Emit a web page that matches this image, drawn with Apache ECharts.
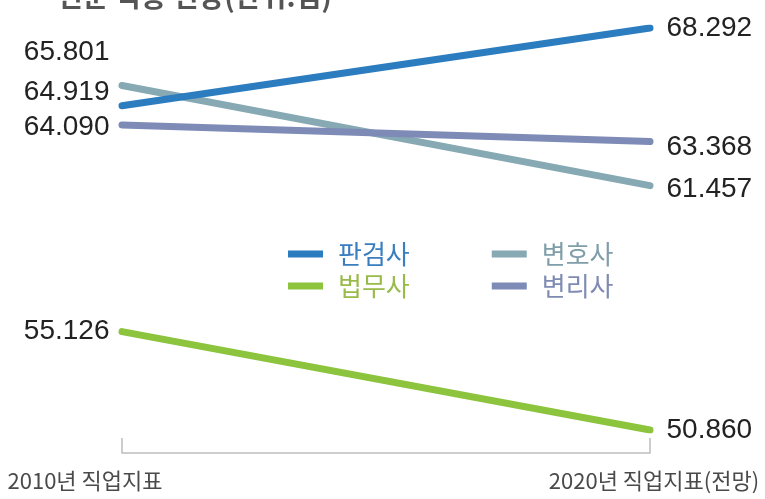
<!DOCTYPE html>
<html>
<head>
<meta charset="utf-8">
<script src="https://cdn.jsdelivr.net/npm/echarts@6/dist/echarts.min.js"></script>
<style>
html,body{margin:0;padding:0;background:#fff;}
#c{width:765px;height:499px;}
</style>
</head>
<body>
<div id="c"></div>
<script>
const categories = ['2010년 직업지표', '2020년 직업지표(전망)'];
const seriesNames = ['판검사', '변호사', '법무사', '변리사'];
const judgeProsecutor = [64.919, 68.292];
const lawyer = [65.801, 61.457];
const legalScrivener = [55.126, 50.860];
const patentAttorney = [64.090, 63.368];
const titleText = '전문 직종 전망(단위:점)';

const colors = {
  '판검사': '#2c7cc0',
  '변호사': '#86a9b3',
  '법무사': '#8cc43e',
  '변리사': '#7d8bb6'
};
const legendTextColors = {
  '판검사': '#3a7ec0',
  '변호사': '#7f9ea9',
  '법무사': '#98bb4a',
  '변리사': '#7f8bb3'
};

const labelFont = {fontFamily: '"Liberation Sans", Arial, sans-serif', fontSize: 28, color: '#222'};

// label offsets keep overlapping numbers readable (style only)
const leftOffsets = {'판검사': [0, -14], '변호사': [0, -33], '법무사': [0, 0], '변리사': [0, 2]};
const rightOffsets = {'판검사': [0, 0], '변호사': [0, 4], '법무사': [0, 0], '변리사': [0, 6]};

function mkSeries(name, vals) {
  return {
    name: name,
    type: 'line',
    xAxisIndex: 0, yAxisIndex: 0,
    symbol: 'circle', symbolSize: 1, showSymbol: true,
    itemStyle: {color: colors[name]},
    lineStyle: {color: colors[name], width: 7, cap: 'round'},
    emphasis: {disabled: true},
    z: name === '판검사' ? 5 : 3,
    data: vals.map((v, i) => ({
      value: v,
      label: Object.assign({
        show: true,
        position: i === 0 ? 'left' : 'right',
        distance: i === 0 ? 12 : 16,
        offset: i === 0 ? leftOffsets[name] : rightOffsets[name],
        formatter: p => Number(p.value).toFixed(3)
      }, labelFont)
    }))
  };
}

const legendText = name => ({
  name: name,
  textStyle: {color: legendTextColors[name]}
});
const legendBase = {
  left: 288, padding: 0, itemGap: 82, itemWidth: 35, itemHeight: 7,
  icon: 'rect', selectedMode: false,
  textStyle: {fontFamily: '"Noto Sans CJK KR", sans-serif', fontSize: 26, padding: [0, 0, 0, 10]}
};

const chart = echarts.init(document.getElementById('c'), null, {renderer: 'canvas'});
chart.setOption({
  backgroundColor: '#fff',
  animation: false,
  title: {
    text: titleText, left: 52, top: -23,
    textStyle: {fontFamily: '"Noto Sans CJK KR", sans-serif', fontSize: 28, fontWeight: 'bold', color: '#555'}
  },
  legend: [
    Object.assign({}, legendBase, {top: 241, data: [legendText('판검사'), legendText('변호사')]}),
    Object.assign({}, legendBase, {top: 273, data: [legendText('법무사'), legendText('변리사')]})
  ],
  grid: [
    {left: 122, right: 115, top: 28, bottom: 69},
    {left: 85, right: 111, top: 28, bottom: 69}
  ],
  xAxis: [
    {
      type: 'category', gridIndex: 0, data: categories, boundaryGap: false, offset: 23,
      axisLine: {show: true, lineStyle: {color: '#bdbdbd', width: 1.5}},
      axisTick: {show: true, inside: true, length: 15, lineStyle: {color: '#bdbdbd', width: 1.5}},
      axisLabel: {show: false}, splitLine: {show: false}
    },
    {
      type: 'category', gridIndex: 1, data: categories, boundaryGap: false, offset: 23,
      axisLine: {show: false}, axisTick: {show: false}, splitLine: {show: false},
      axisLabel: {show: true, margin: 17, color: '#4a4a4a', fontSize: 22, fontFamily: '"Noto Sans CJK KR", sans-serif'}
    }
  ],
  yAxis: [
    {type: 'value', gridIndex: 0, min: 'dataMin', max: 'dataMax', show: false, splitLine: {show: false}},
    {type: 'value', gridIndex: 1, min: 'dataMin', max: 'dataMax', show: false, splitLine: {show: false}}
  ],
  series: [
    mkSeries('판검사', judgeProsecutor),
    mkSeries('변호사', lawyer),
    mkSeries('법무사', legalScrivener),
    mkSeries('변리사', patentAttorney)
  ]
});
</script>
</body>
</html>
